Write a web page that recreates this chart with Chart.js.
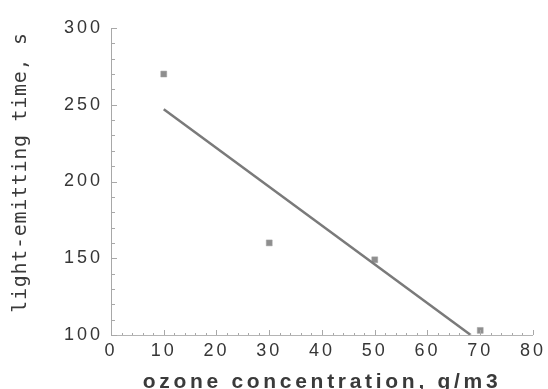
<!DOCTYPE html>
<html>
<head>
<meta charset="utf-8">
<script src="https://cdn.jsdelivr.net/npm/chart.js@4/dist/chart.umd.min.js"></script>
<style>
  html, body { margin: 0; padding: 0; background: #fff; }
  #wrap { width: 548px; height: 389px; }
</style>
</head>
<body>
<div id="wrap"><canvas id="myChart" width="548" height="389"></canvas></div>
<script>
// measured points
const concentration = [10, 30, 50, 70];
const emitTime = [270, 160, 149, 103];

// fitted straight line, read from its two ends
const fitX = [10, 68.2];
const fitY = [247, 100];

// axis ranges
const xMin = 0, xMax = 80, xStep = 10;
const yMin = 100, yMax = 300, yStep = 50;

const textColor = "#363636";

// letter spacing is not a Chart.js option, so wrap the scale's own drawing
function spaceOut(scale, labelGap, titleGap, shiftY) {
	if (scale._spaced) return;
	scale._spaced = true;
	const drawLabels = scale.drawLabels;
	const drawTitle = scale.drawTitle;
	scale.drawLabels = function (area) {
		this.ctx.save();
		this.ctx.letterSpacing = labelGap;
		drawLabels.call(this, area);
		this.ctx.restore();
	};
	scale.drawTitle = function () {
		this.ctx.save();
		this.ctx.letterSpacing = titleGap;
		this.ctx.translate(0, shiftY);
		drawTitle.call(this);
		this.ctx.restore();
	};
}

// small inward ticks along both axes
const innerTicks = {
	id: "innerTicks",
	afterDatasetsDraw(chart) {
		const ctx = chart.ctx;
		const x = chart.scales.x, y = chart.scales.y;
		ctx.save();
		ctx.strokeStyle = "#a8a8a8";
		ctx.lineWidth = 1;
		ctx.beginPath();
		for (let v = yMin; v <= yMax; v += 10) {
			const py = Math.round(y.getPixelForValue(v)) + 0.5;
			const len = v % 50 === 0 ? 6 : 4;
			ctx.moveTo(x.left, py);
			ctx.lineTo(x.left + len, py);
		}
		for (let v = xMin; v <= xMax; v += 2) {
			const px = Math.round(x.getPixelForValue(v)) + 0.5;
			const len = v % 10 === 0 ? 5 : 2;
			ctx.moveTo(px, y.bottom);
			ctx.lineTo(px, y.bottom - len);
		}
		ctx.stroke();
		ctx.restore();
	}
};

const points = concentration.map((c, i) => ({ x: c, y: emitTime[i] }));
const fit = fitX.map((c, i) => ({ x: c, y: fitY[i] }));

new Chart("myChart", {
	type: "scatter",
	data: {
		datasets: [
			{
				type: "line",
				data: fit,
				borderColor: "#7a7a7a",
				borderWidth: 2.5,
				pointRadius: 0,
				fill: false
			},
			{
				data: points,
				pointStyle: "rect",
				pointRadius: 4.2,
				backgroundColor: "#8e8e8e",
				borderColor: "#a0a0a0",
				borderWidth: 0.5
			}
		]
	},
	options: {
		responsive: false,
		animation: false,
		layout: { padding: { left: 0, top: 28, right: 13, bottom: 0 } },
		plugins: {
			legend: { display: false },
			tooltip: { enabled: false }
		},
		scales: {
			x: {
				type: "linear",
				min: xMin,
				max: xMax,
				grid: { display: false, drawTicks: false },
				border: { display: true, color: "#b4b4b4", width: 1 },
				ticks: {
					stepSize: xStep,
					padding: 5,
					color: textColor,
					font: { family: "Liberation Sans, Arial, sans-serif", size: 18 }
				},
				title: {
					display: true,
					text: "ozone concentration, g/m3",
					color: "#3a3a3a",
					padding: { top: 0, bottom: 0 },
					font: { family: "Liberation Sans, Arial, sans-serif", size: 21, weight: "bold" }
				},
				afterFit(scale) {
					scale.height = 54;
					spaceOut(scale, "3px", "3.7px", 5.5);
				}
			},
			y: {
				type: "linear",
				min: yMin,
				max: yMax,
				grid: { display: false, drawTicks: false },
				border: { display: true, color: "#a8a8a8", width: 1 },
				ticks: {
					stepSize: yStep,
					padding: 8,
					color: textColor,
					font: { family: "Liberation Sans, Arial, sans-serif", size: 18 }
				},
				title: {
					display: true,
					text: "light-emitting time, s",
					color: "#3a3a3a",
					padding: { top: 9, bottom: 0 },
					font: { family: "DejaVu Sans Mono, monospace", size: 20 }
				},
				afterFit(scale) {
					scale.width = 111;
					spaceOut(scale, "3px", "0.7px", -9);
				}
			}
		}
	},
	plugins: [innerTicks]
});
</script>
</body>
</html>
